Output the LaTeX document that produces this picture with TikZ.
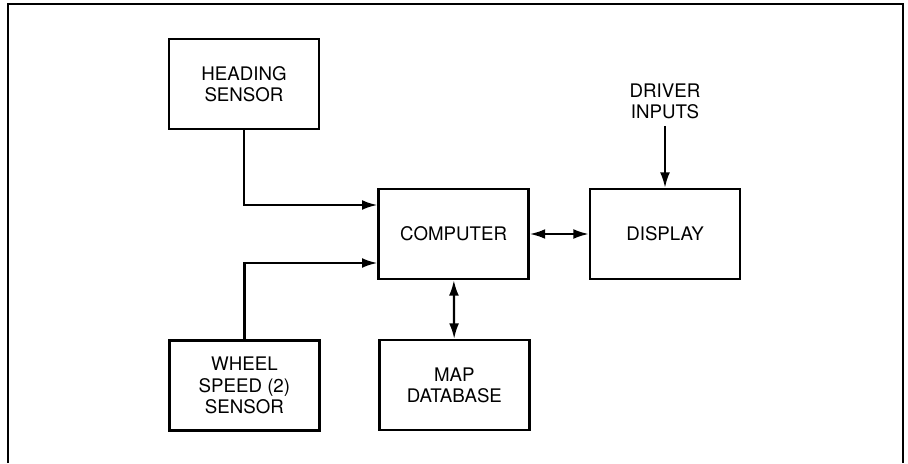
\documentclass[tikz,border=0pt]{standalone}
\usepackage{fontspec}
\setmainfont{TeX Gyre Heros}
\usetikzlibrary{arrows.meta}

\tikzset{
  unit/.style={draw=black, line width=1.6pt, align=center,
    minimum width=3.75cm, minimum height=2.25cm, inner sep=2pt},
  link/.style={line width=1.6pt}
}

\begin{document}
\begin{tikzpicture}[>={Latex[length=11pt,width=7pt]},
    font=\fontsize{13.3}{15}\selectfont]

  % --- marco ---
  \useasboundingbox (0,0) rectangle (22.7,11.575);
  \draw[line width=1.4pt] (0.2,0) -- (0.2,11.475) -- (22.575,11.475) -- (22.575,0);

  % --- bloques ---
  \node[unit] (heading)  at (6.1,9.475)   {HEADING\\SENSOR};
  \node[unit] (wheel)    at (6.11,1.94)   {WHEEL\\SPEED (2)\\SENSOR};
  \node[unit] (computer) at (11.34,5.725) {COMPUTER};
  \node[unit] (mapdb)    at (11.36,1.95)  {MAP\\DATABASE};
  \node[unit] (display)  at (16.625,5.725) {DISPLAY};
  \node[align=center, inner sep=1pt] (driver) at (16.625,9.05) {DRIVER\\INPUTS};

  % --- conexiones ---
  \draw[link, ->] (heading.south) |- ([yshift=7.25mm]computer.west);
  \draw[link, ->] (wheel.north) |- ([yshift=-7.25mm]computer.west);
  \draw[link, <->] (computer) -- (display);
  \draw[link, <->] (computer) -- (mapdb);
  \draw[link, ->] ([yshift=-4pt]driver.south) -- (display.north);

\end{tikzpicture}
\end{document}
